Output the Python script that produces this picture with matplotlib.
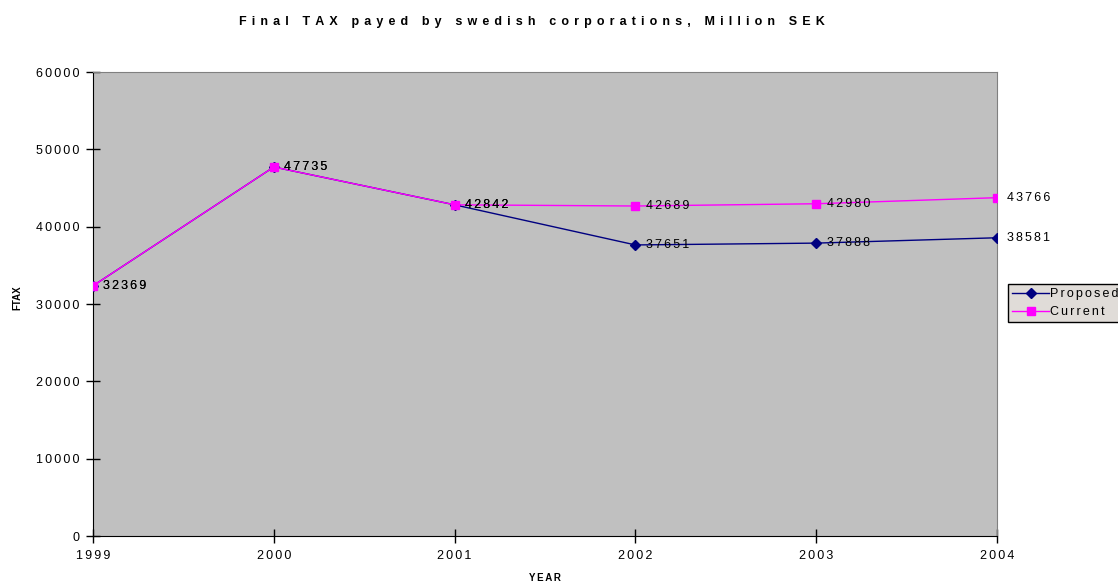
import matplotlib
matplotlib.use('Agg')
import matplotlib.pyplot as plt

plt.rcParams['font.family'] = ['Liberation Sans', 'DejaVu Sans']

years = [1999, 2000, 2001, 2002, 2003, 2004]
proposed = [32369, 47735, 42842, 37651, 37888, 38581]
current = [32369, 47735, 42842, 42689, 42980, 43766]
yticks = [0, 10000, 20000, 30000, 40000, 50000, 60000]

SIX = '\u2006'
WIDE = '\u2004\u200a'


def sp(s, gap=SIX):
    # fake letter spacing, the old excel look
    return gap.join(str(s))


fig = plt.figure(figsize=(11.18, 5.82), dpi=100)
ax = fig.add_axes([0.0832, 0.079, 0.8086, 0.797])
ax.set_facecolor('#C0C0C0')

ax.plot(years, proposed, color='#000080', lw=1, marker='D', ms=5.5, label=sp('Proposed'), zorder=3)
ax.plot(years, current, color='#FF00FF', lw=1, marker='s', ms=6, label=sp('Current'), zorder=3)

for x, y in zip(years, proposed):
    ax.annotate(sp(y), (x, y), xytext=(7.5, 0), textcoords='offset points',
                va='center', ha='left', fontsize=9, zorder=4)
for x, y in zip(years, current):
    ax.annotate(sp(y), (x, y), xytext=(7.5, 0), textcoords='offset points',
                va='center', ha='left', fontsize=9, zorder=4)

ax.set_xlim(1999, 2004)
ax.set_ylim(0, 60000)
ax.set_xticks(years)
ax.set_xticklabels([sp(y) for y in years])
ax.set_yticks(yticks)
ax.set_yticklabels([sp(v) for v in yticks])
ax.tick_params(direction='inout', length=10, labelsize=9, width=1)
ax.tick_params(axis='x', pad=5)
ax.tick_params(axis='y', pad=5)

for s in ['top', 'right']:
    ax.spines[s].set_color('#808080')
for s in ['left', 'bottom']:
    ax.spines[s].set_color('black')

ax.set_xlabel(sp('YEAR'), fontsize=7, fontweight='bold', labelpad=8)
ax.set_ylabel('FTAX', fontsize=7, fontweight='bold')
ax.yaxis.set_label_coords(-0.0785, 0.514)
fig.text(532 / 1118, 1 - 21.5 / 582, sp('Final TAX payed by swedish corporations, Million SEK', WIDE),
         fontsize=9, fontweight='bold', ha='center', va='center')

leg = fig.legend(loc='upper left', bbox_to_anchor=(1008 / 1118, 1 - 284 / 582),
                 fontsize=9, frameon=True, fancybox=False, borderpad=0.35,
                 handlelength=2.9, handletextpad=0.15, labelspacing=0.45,
                 borderaxespad=0)
leg.get_frame().set_facecolor('#E0DCD8')
leg.get_frame().set_edgecolor('black')
leg.get_frame().set_alpha(1)

fig.savefig('out.png', dpi=100)
